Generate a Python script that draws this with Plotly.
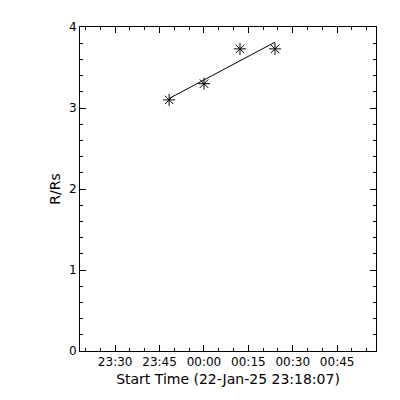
import numpy as np
import pandas as pd
import plotly.graph_objects as go

# Data
times = ["2025-01-22 23:48:13", "2025-01-23 00:00:01", "2025-01-23 00:12:10", "2025-01-23 00:24:00"]
r_rs = [3.10, 3.30, 3.73, 3.73]
start_label = "22-Jan-25 23:18:07"
x_start = "2025-01-22 23:18:07"
x_end = "2025-01-23 00:58:07"

t = pd.to_datetime(times)
t0 = pd.Timestamp(x_start)
mins = np.array([(ti - t0).total_seconds() / 60.0 for ti in t])
coef = np.polyfit(mins, r_rs, 1)
fit_x = [t[0], t[-1]]
fit_y = [np.polyval(coef, mins[0]), np.polyval(coef, mins[-1])]

fig = go.Figure()
fig.add_trace(go.Scatter(x=fit_x, y=fit_y, mode="lines",
                         line=dict(color="black", width=1), showlegend=False))
fig.add_trace(go.Scatter(x=t, y=r_rs, mode="markers",
                         marker=dict(symbol="asterisk-open", size=10,
                                     line=dict(color="black", width=1), color="black"),
                         showlegend=False))

font = dict(family="DejaVu Sans", size=12, color="black")
fig.update_layout(
    width=400, height=400,
    margin=dict(l=72, r=32, t=15, b=57),
    paper_bgcolor="white", plot_bgcolor="white",
    font=font,
    xaxis=dict(
        type="date", range=[x_start, x_end],
        tick0="2025-01-22 23:30:00", dtick=15 * 60 * 1000, tickformat="%H:%M",
        ticks="inside", ticklen=6, tickcolor="black", tickwidth=1,
        minor=dict(dtick=5 * 60 * 1000, ticks="inside", ticklen=3, tickcolor="black"),
        showline=True, linecolor="black", linewidth=1, mirror="ticks",
        showgrid=False, zeroline=False,
        title=dict(text=f"Start Time ({start_label})", standoff=5),
    ),
    yaxis=dict(
        range=[0, 4], tick0=0, dtick=1,
        ticks="inside", ticklen=6, tickcolor="black", tickwidth=1,
        minor=dict(dtick=0.2, ticks="inside", ticklen=3, tickcolor="black"),
        showline=True, linecolor="black", linewidth=1, mirror="ticks",
        showgrid=False, zeroline=False,
        title=dict(text="R/Rs", standoff=5),
    ),
)
fig.write_html("out.html")
